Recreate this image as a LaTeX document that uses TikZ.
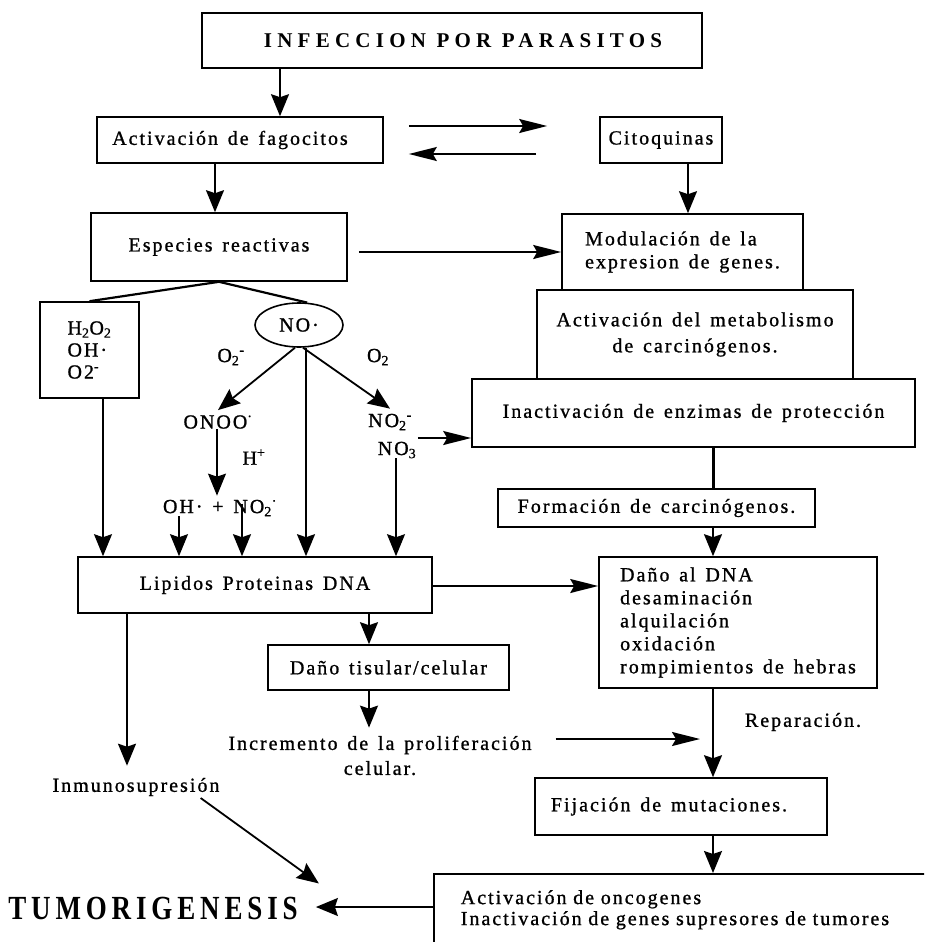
\documentclass[tikz,border=0pt]{standalone}
\usepackage{fontspec}
\setmainfont{Liberation Serif}
\newfontfamily\labelfont{Liberation Serif}[LetterSpace=10, WordSpace=1.4, FakeBold=1]
\newfontfamily\titlefont{Liberation Serif}[LetterSpace=25]
\newfontfamily\bigfont{Liberation Serif}[LetterSpace=18]
\usetikzlibrary{arrows.meta,shapes.geometric}

\tikzset{
  every node/.style={font=\labelfont\fontsize{20}{23}\selectfont},
  box/.style={draw, rectangle, line width=1.6pt, inner sep=0pt},
  txt/.style={inner sep=0pt},
  varr/.style={line width=1.8pt, -{Stealth[length=22pt,width=18pt,inset=3pt]}},
  harr/.style={line width=1.8pt, -{Stealth[length=28pt,width=14pt,inset=4pt]}},
  thinline/.style={line width=1.2pt},
  link/.style={line width=2.2pt},
  heavy/.style={line width=3pt}
}

\begin{document}
\begin{tikzpicture}[x=1pt,y=-1pt]
\useasboundingbox (0,0) rectangle (924,942);
\clip (0,0) rectangle (924,942);

% columns and rows used by the connectors
\coordinate (cA) at (280,0);
\coordinate (cB) at (215,0);
\coordinate (cC) at (688,0);
\coordinate (cD) at (713,0);
\coordinate (cE) at (103,0);
\coordinate (cF) at (217,0);
\coordinate (cG) at (179,0);
\coordinate (cH) at (242,0);
\coordinate (cI) at (306,0);
\coordinate (cJ) at (396,0);
\coordinate (cK) at (127,0);
\coordinate (cL) at (369,0);
\coordinate (rA) at (0,126);
\coordinate (rB) at (0,154);
\coordinate (rC) at (0,252);
\coordinate (rD) at (0,438);
\coordinate (rE) at (0,586);
\coordinate (rF) at (0,739);
\coordinate (rG) at (0,907);

% boxes
\node[box, minimum width=500pt, minimum height=55pt] (inf) at (452,40.5)
  {\titlefont\bfseries\fontsize{21}{25}\selectfont\hspace*{22pt}INFECCION POR PARASITOS};
\node[box, minimum width=286pt, minimum height=46pt] (fag) at (240,140) {\hspace*{-20pt}Activación de fagocitos};
\node[box, minimum width=122pt, minimum height=46pt] (cit) at (661,140) {Citoquinas};
\node[box, minimum width=256pt, minimum height=68pt] (esp) at (219,247) {Especies reactivas};
\node[box, minimum width=241pt, minimum height=76pt, align=left] (mod) at (682.5,252)
  {Modulación de la\\expresion de genes.};
\node[box, minimum width=316pt, minimum height=89pt, align=center,
      font=\labelfont\fontsize{20}{26}\selectfont] (met) at (695,334.5)
  {Activación del metabolismo\\de carcinógenos.};
\node[box, minimum width=443pt, minimum height=68pt] (ina) at (693.5,413)
  {Inactivación de enzimas de protección};
\node[box, minimum width=317pt, minimum height=38pt] (form) at (656.5,508) {Formación de carcinógenos.};
\node[box, minimum width=278pt, minimum height=131pt, align=left] (dna) at (738,622.5)
  {Daño al DNA\\desaminación\\alquilación\\oxidación\\rompimientos de hebras};
\node[box, minimum width=99pt, minimum height=96pt, align=left,
      font=\labelfont\fontsize{20}{22}\selectfont] (h2o) at (89.5,350)
  {H\textsubscript{2}O\textsubscript{2}\\OH·\\O2\textsuperscript{-}};
\node[draw, ellipse, line width=1.6pt, minimum width=88pt, minimum height=44pt, inner sep=0pt]
  (no) at (299,325) {NO·};
\node[box, minimum width=354pt, minimum height=56pt] (lip) at (255,585) {Lipidos\ Proteinas\ DNA};
\node[box, minimum width=241pt, minimum height=45pt] (tis) at (388.5,667.5) {Daño tisular/celular};
\node[box, minimum width=292pt, minimum height=57pt] (fij) at (681,806.5) {\hspace*{-24pt}Fijación de mutaciones.};
\node[box, anchor=north west, minimum width=514pt, minimum height=72pt, align=left,
      text width=460pt, inner xsep=27pt, font=\labelfont\fontsize{20}{21}\selectfont]
  (onc) at (433,873) {Activación de oncogenes\\Inactivación de genes supresores de tumores};

% free labels
\node[txt] (o2a) at (231,357) {O\textsubscript{2}\textsuperscript{-}};
\node[txt] (o2b) at (378,357) {O\textsubscript{2}};
\node[txt] (onoo) at (218,422) {ONOO\textsuperscript{·}};
\node[txt] (hp) at (254,457) {H\textsuperscript{+}};
\node[txt] (ohno) at (220,508) {OH·\ +\ NO\textsubscript{2}\textsuperscript{·}};
\node[txt] (no2) at (390,422) {NO\textsubscript{2}\textsuperscript{-}};
\node[txt] (no3) at (397,450) {NO\textsubscript{3}};
\node[txt] (inm) at (136,787) {Inmunosupresión};
\node[txt, align=center, font=\labelfont\fontsize{20}{25}\selectfont] (prol) at (380,755.5)
  {Incremento de la proliferación\\celular.};
\node[txt] (rep) at (803,722) {Reparación.};
\node[txt] (tum) at (153,908)
  {\scalebox{1}[1.25]{\bigfont\bfseries\fontsize{27}{32}\selectfont TUMORIGENESIS}};

% connectors
\draw[varr] (inf.south -| cA) -- (fag.north -| cA);
\draw[harr, shorten <=25pt, shorten >=52pt] (fag.east |- rA) -- (cit.west |- rA);
\draw[harr, shorten <=63pt, shorten >=25pt] (cit.west |- rB) -- (fag.east |- rB);
\draw[varr] (fag.south -| cB) -- (esp.north -| cB);
\draw[varr] (cit.south -| cC) -- (mod.north -| cC);
\draw[harr, shorten <=11pt] (esp.east |- rC) -- (mod.west |- rC);

\draw[link] (esp.south) -- (h2o.north);
\draw[link] (esp.south) -- (no.70);
\draw[varr] (no.260) -- ([yshift=5pt]onoo.north);
\draw[varr] (no.280) -- ([yshift=5pt]no2.north);
\draw[varr] (no.south -| cI) -- (lip.north -| cI);
\draw[harr, shorten <=6pt] (no2.east |- rD) -- (ina.west |- rD);

\draw[varr, thinline, shorten >=4pt] (onoo.south -| cF) -- (ohno.north -| cF);
\draw[varr, thinline] (ohno.south -| cG) -- (lip.north -| cG);
\draw[varr, shorten <=4pt] (ohno.north -| cH) -- (lip.north -| cH);
\draw[varr, thinline] (h2o.south -| cE) -- (lip.north -| cE);
\draw[varr, thinline] (no3.south -| cJ) -- (lip.north -| cJ);

\draw[harr] (lip.east |- rE) -- (dna.west |- rE);
\draw[varr, shorten >=12pt] (lip.south -| cK) -- (inm.north -| cK);
\draw[varr] (lip.south -| cL) -- (tis.north -| cL);
\draw[varr, shorten >=8pt] (tis.south -| cL) -- (prol.north -| cL);
\draw[harr, shorten <=24pt, shorten >=13pt] (prol.east |- rF) -- (cD |- rF);

\draw[heavy] (ina.south -| cD) -- (form.north -| cD);
\draw[varr] (form.south -| cD) -- (dna.north -| cD);
\draw[varr] (dna.south -| cD) -- (fij.north -| cD);
\draw[varr] (fij.south -| cD) -- (onc.north -| cD);

\draw[varr, shorten >=18pt] (onc.west |- rG) -- (tum.east |- rG);
\draw[varr] ([xshift=-19pt,yshift=-11pt]inm.east) -- ([xshift=21pt,yshift=13pt]tum.north east);
\end{tikzpicture}
\end{document}
